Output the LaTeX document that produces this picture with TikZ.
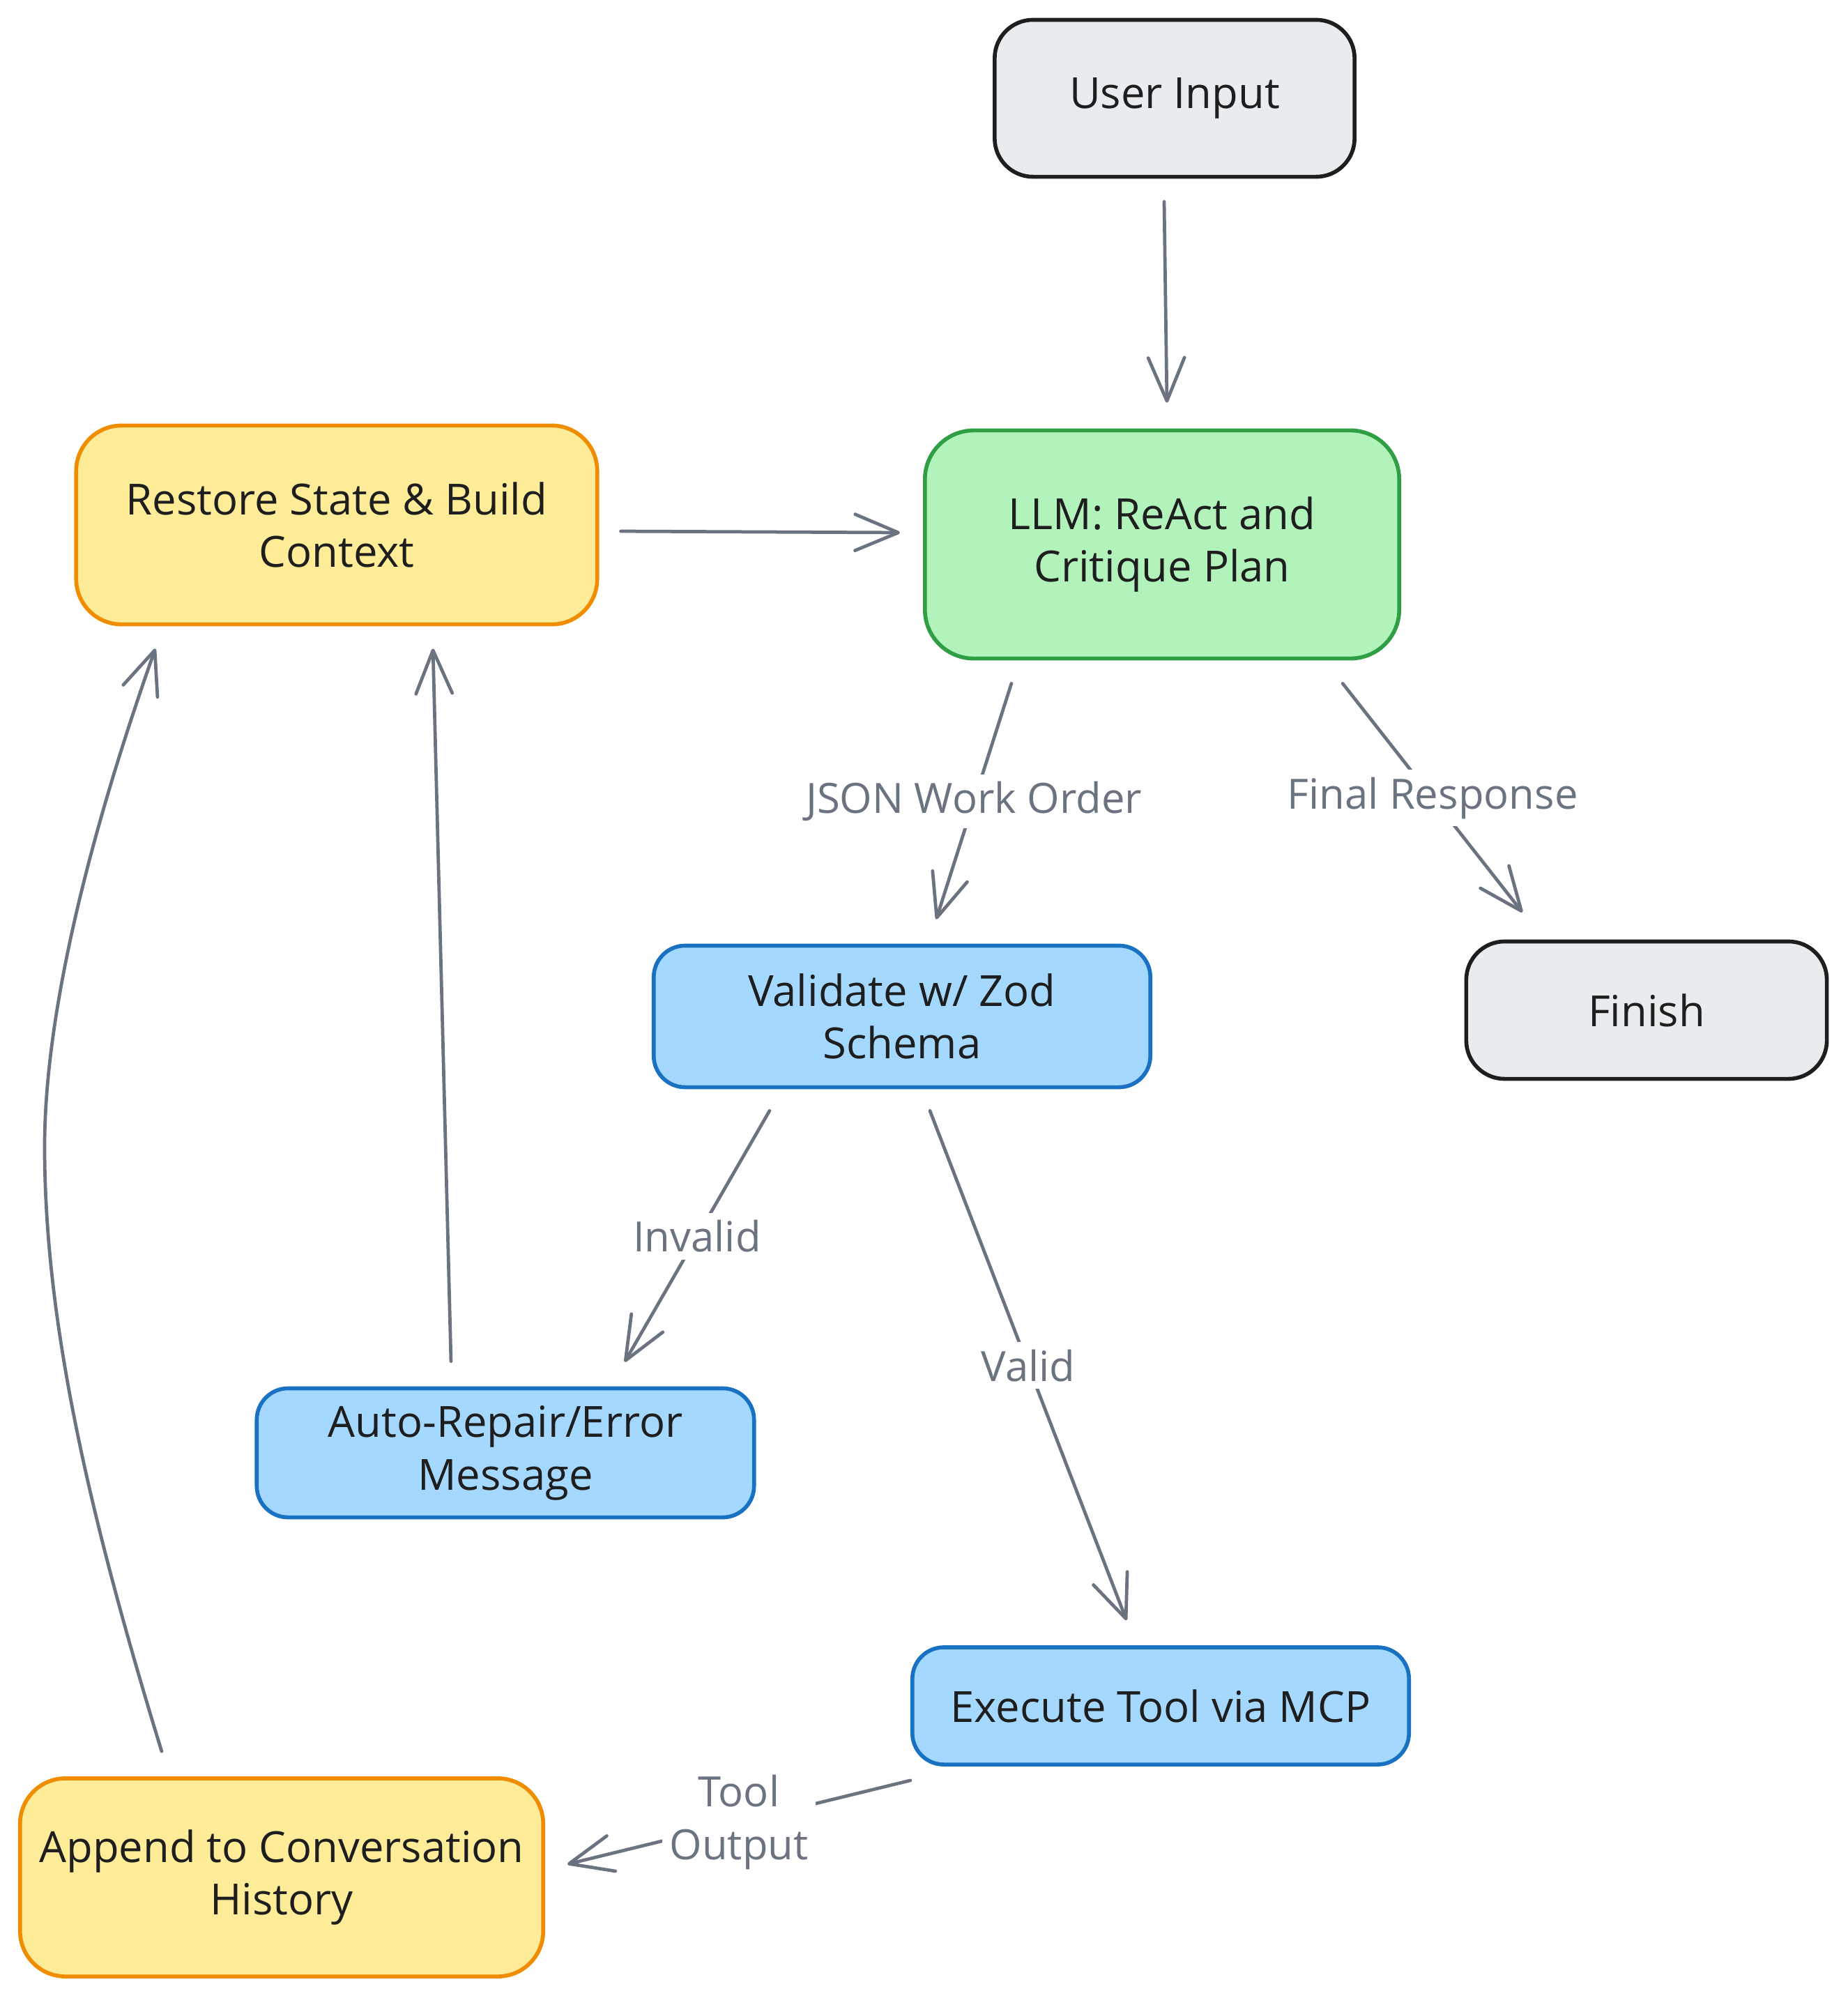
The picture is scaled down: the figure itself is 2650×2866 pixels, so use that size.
\documentclass[tikz,border=0pt]{standalone}
\usepackage{fontspec}
\setmainfont{Open Sans}
\usetikzlibrary{arrows.meta,calc}
\definecolor{grayfill}{HTML}{E9ECEF}
\definecolor{darkstroke}{HTML}{1E1E1E}
\definecolor{greenfill}{HTML}{B2F2BB}
\definecolor{greenstroke}{HTML}{2F9E44}
\definecolor{yellowfill}{HTML}{FFEC99}
\definecolor{orangestroke}{HTML}{F08C00}
\definecolor{bluefill}{HTML}{A5D8FF}
\definecolor{bluestroke}{HTML}{1971C2}
\definecolor{arrowgray}{HTML}{6B7280}
\begin{document}
\begin{tikzpicture}[x=0.01cm,y=-0.01cm,
  box/.style={rectangle, rounded corners=0.55cm, line width=1.6pt, align=center,
    font=\fontsize{17.5}{21.5}\selectfont, text=darkstroke, inner sep=0pt},
  graybox/.style={box, draw=darkstroke, fill=grayfill},
  greenbox/.style={box, draw=greenstroke, fill=greenfill, rounded corners=0.7cm},
  yellowbox/.style={box, draw=orangestroke, fill=yellowfill, rounded corners=0.65cm},
  bluebox/.style={box, draw=bluestroke, fill=bluefill, rounded corners=0.45cm},
  flow/.style={draw=arrowgray, line width=1.35pt, line cap=round, line join=round,
    -{Straight Barb[length=0.62cm,width=0.52cm,round]}},
  lbl/.style={fill=white, text=arrowgray, font=\fontsize{17}{21.5}\selectfont,
    align=center, inner sep=3pt}
]
\useasboundingbox (0,0) rectangle (2650,2866);

\node[graybox, minimum width=5.16cm, minimum height=2.25cm] (user) at (1685,141) {User Input};
\node[greenbox, minimum width=6.80cm, minimum height=3.27cm] (llm) at (1667,781) {LLM: ReAct and\\Critique Plan};
\node[yellowbox, minimum width=7.47cm, minimum height=2.85cm] (restore) at (483,753) {Restore State \& Build\\Context};
\node[bluebox, minimum width=7.12cm, minimum height=2.03cm] (validate) at (1294,1458) {Validate w/ Zod\\Schema};
\node[graybox, minimum width=5.17cm, minimum height=1.97cm] (finish) at (2362,1449) {Finish};
\node[bluebox, minimum width=7.13cm, minimum height=1.85cm] (auto) at (725,2084) {Auto-Repair/Error\\Message};
\node[bluebox, minimum width=7.12cm, minimum height=1.68cm] (exec) at (1665,2447) {Execute Tool via MCP};
\node[yellowbox, minimum width=7.50cm, minimum height=2.84cm] (append) at (404,2693) {Append to Conversation\\History};

\draw[flow] ([xshift=-0.15cm,yshift=-0.33cm]user.south) -- ([xshift=0.07cm,yshift=0.37cm]llm.north);
\draw[flow] ([xshift=0.31cm,yshift=-0.09cm]restore.east) -- ([xshift=-0.33cm,yshift=0.17cm]llm.west);
\draw[flow] ([xshift=-2.16cm,yshift=-0.33cm]llm.south) -- node[lbl] (ljson) {JSON Work Order} ([xshift=0.49cm,yshift=0.35cm]validate.north);
\draw[flow] ([xshift=2.59cm,yshift=-0.33cm]llm.south) -- node[lbl] (lfinal) {Final Response} ([xshift=-1.78cm,yshift=0.39cm]finish.north);
\draw[flow] ([xshift=-1.90cm,yshift=-0.31cm]validate.south) -- node[lbl] (linvalid) {Invalid} ([xshift=1.71cm,yshift=0.35cm]auto.north);
\draw[flow] ([xshift=0.40cm,yshift=-0.31cm]validate.south) -- node[lbl] (lvalid) {Valid} ([xshift=-0.49cm,yshift=0.36cm]exec.north);
\draw[flow] ([xshift=-0.78cm,yshift=0.36cm]auto.north) -- ([xshift=1.38cm,yshift=-0.32cm]restore.south);
\draw[flow] ([xshift=-1.72cm,yshift=0.36cm]append.north) .. controls (130,2180) and (64,1900) .. (64,1645)
  .. controls (64,1400) and (170,1080) .. ([xshift=-2.60cm,yshift=-0.32cm]restore.south);
\draw[flow] ([yshift=-0.20cm]exec.south west) -- node[lbl] (ltool) {Tool\\Output} ([xshift=0.32cm,yshift=0.19cm]append.east);
\end{tikzpicture}
\end{document}
